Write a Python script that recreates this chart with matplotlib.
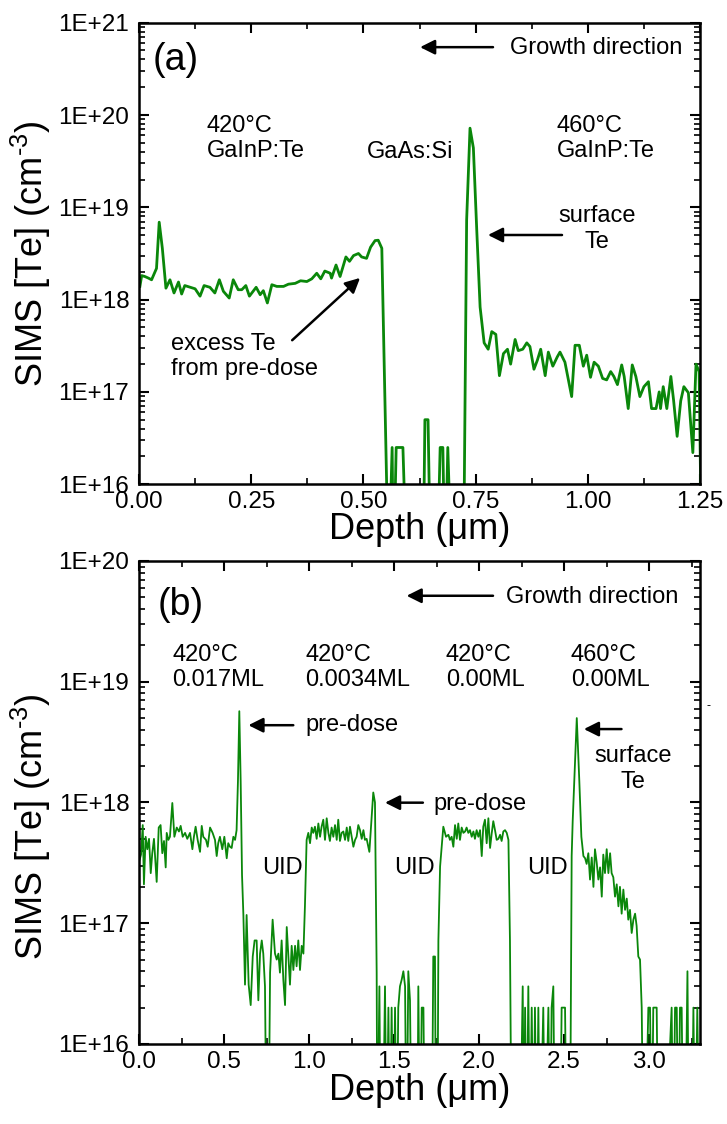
import numpy as np
import matplotlib
matplotlib.use('Agg')
import matplotlib.pyplot as plt
from matplotlib.ticker import LogLocator, FuncFormatter, NullFormatter, MultipleLocator

plt.rcParams['font.family'] = ['Liberation Sans', 'DejaVu Sans']
plt.rcParams['mathtext.fontset'] = 'custom'
plt.rcParams['mathtext.rm'] = 'Liberation Sans'
plt.rcParams['mathtext.it'] = 'Liberation Sans:italic'

# (a) Te profile, GaInP:Te / GaAs:Si / GaInP:Te
depth_a = [
    0.002, 0.006, 0.013, 0.021, 0.028, 0.039, 0.045, 0.052, 0.060, 0.069,
    0.078, 0.088, 0.095, 0.102, 0.114, 0.125, 0.136, 0.145, 0.158, 0.169,
    0.179, 0.188, 0.201, 0.210, 0.221, 0.229, 0.238, 0.246, 0.261, 0.270,
    0.277, 0.286, 0.296, 0.307, 0.322, 0.333, 0.348, 0.360, 0.374, 0.385,
    0.396, 0.405, 0.414, 0.426, 0.429, 0.439, 0.448, 0.461, 0.469, 0.478,
    0.489, 0.496, 0.507, 0.516, 0.526, 0.533, 0.541, 0.556, 0.564, 0.567,
    0.573, 0.588, 0.597, 0.633, 0.637, 0.644, 0.650, 0.664, 0.671, 0.677,
    0.682, 0.688, 0.697, 0.723, 0.730, 0.7375, 0.745, 0.7525, 0.760, 0.769,
    0.778, 0.786, 0.795, 0.803, 0.812, 0.821, 0.828, 0.838, 0.845, 0.855,
    0.864, 0.871, 0.880, 0.8875, 0.895, 0.905, 0.912, 0.922, 0.932, 0.938,
    0.949, 0.964, 0.9715, 0.981, 0.990, 0.9975, 1.006, 1.014, 1.0235, 1.033,
    1.042, 1.051, 1.058, 1.066, 1.0755, 1.081, 1.090, 1.099, 1.107, 1.116,
    1.125, 1.135, 1.142, 1.152, 1.159, 1.162, 1.168, 1.176, 1.185, 1.191,
    1.199, 1.207, 1.214, 1.224, 1.234, 1.241, 1.248, 1.254,
]
te_a = [
    1.39e18, 1.82e18, 1.78e18, 1.71e18, 1.64e18, 2.18e18, 6.9e18, 3.6e18, 1.33e18, 1.64e18,
    1.18e18, 1.55e18, 1.15e18, 1.42e18, 1.36e18, 1.31e18, 1.09e18, 1.42e18, 1.36e18, 1.18e18,
    1.64e18, 1.23e18, 1.04e18, 1.64e18, 1.28e18, 1.28e18, 1.42e18, 1.09e18, 1.36e18, 1.13e18,
    1.25e18, 9.2e17, 1.45e18, 1.39e18, 1.39e18, 1.47e18, 1.50e18, 1.60e18, 1.57e18, 1.68e18,
    1.93e18, 1.68e18, 2.04e18, 1.93e18, 1.71e18, 2.37e18, 1.78e18, 2.9e18, 2.6e18, 3.0e18,
    3.16e18, 2.9e18, 2.8e18, 3.7e18, 4.36e18, 4.4e18, 3.6e18, 1e15, 2.5e16, 1e15,
    2.5e16, 2.5e16, 1e15, 1e15, 5e16, 5e16, 1e15, 1e15, 2.5e16, 2.5e16,
    1e15, 2.5e16, 1e15, 1e15, 7.3e18, 7.2e19, 4.4e19, 5.7e18, 8.3e17, 3.4e17,
    2.9e17, 4.5e17, 4.2e17, 1.5e17, 2.6e17, 2.9e17, 2.0e17, 3.7e17, 2.8e17, 2.9e17,
    3.4e17, 3.1e17, 1.76e17, 2.2e17, 2.9e17, 1.5e17, 2.7e17, 1.9e17, 2.4e17, 2.7e17,
    2.1e17, 8.9e16, 3.2e17, 3.2e17, 1.9e17, 2.5e17, 1.44e17, 2.1e17, 1.9e17, 1.4e17,
    1.35e17, 1.66e17, 1.47e17, 1.2e17, 1.96e17, 1.47e17, 6.6e16, 1.96e17, 1.47e17, 8.9e16,
    1.14e17, 1.29e17, 6.6e16, 6.6e16, 1.0e17, 6.6e16, 1.14e17, 6.6e16, 1.47e17, 8.2e16,
    3.3e16, 8e16, 1.14e17, 9.8e16, 2.2e16, 2.0e17, 1.66e17, 1e15,
]

# (b) pre-dose series with undoped spacers
depth_b = [
    0.002, 0.012, 0.022, 0.029, 0.039, 0.049, 0.059, 0.069, 0.078, 0.088,
    0.104, 0.116, 0.127, 0.137, 0.147, 0.157, 0.163, 0.173, 0.182, 0.196,
    0.208, 0.222, 0.235, 0.245, 0.257, 0.271, 0.284, 0.300, 0.314, 0.323,
    0.333, 0.345, 0.359, 0.369, 0.378, 0.394, 0.404, 0.418, 0.433, 0.447,
    0.457, 0.466, 0.476, 0.490, 0.502, 0.516, 0.525, 0.535, 0.545, 0.555,
    0.565, 0.574, 0.582, 0.590, 0.598, 0.606, 0.614, 0.6235, 0.633, 0.645,
    0.657, 0.669, 0.680, 0.692, 0.702, 0.712, 0.722, 0.731, 0.741, 0.751,
    0.761, 0.771, 0.786, 0.800, 0.810, 0.820, 0.829, 0.839, 0.849, 0.859,
    0.869, 0.878, 0.888, 0.898, 0.908, 0.918, 0.927, 0.937, 0.947, 0.957,
    0.967, 0.976, 0.986, 0.996, 1.006, 1.016, 1.025, 1.035, 1.045, 1.055,
    1.065, 1.074, 1.084, 1.094, 1.104, 1.114, 1.123, 1.133, 1.143, 1.153,
    1.163, 1.172, 1.182, 1.192, 1.202, 1.212, 1.222, 1.231, 1.241, 1.251,
    1.261, 1.271, 1.280, 1.290, 1.300, 1.310, 1.320, 1.329, 1.339, 1.349,
    1.355, 1.363, 1.378, 1.388, 1.398, 1.402, 1.414, 1.422, 1.433, 1.447,
    1.457, 1.467, 1.476, 1.486, 1.496, 1.506, 1.516, 1.525, 1.535, 1.545,
    1.555, 1.565, 1.574, 1.584, 1.594, 1.604, 1.624, 1.637, 1.643, 1.653,
    1.663, 1.673, 1.682, 1.722, 1.731, 1.741, 1.747, 1.755, 1.761, 1.771,
    1.790, 1.806, 1.820, 1.829, 1.839, 1.849, 1.859, 1.869, 1.878, 1.888,
    1.898, 1.908, 1.918, 1.927, 1.937, 1.947, 1.957, 1.967, 1.976, 1.986,
    1.996, 2.006, 2.016, 2.025, 2.035, 2.045, 2.055, 2.065, 2.075, 2.084,
    2.094, 2.104, 2.114, 2.124, 2.133, 2.143, 2.153, 2.163, 2.173, 2.182,
    2.192, 2.241, 2.257, 2.265, 2.271, 2.280, 2.290, 2.300, 2.310, 2.320,
    2.329, 2.339, 2.349, 2.359, 2.378, 2.388, 2.408, 2.418, 2.427, 2.437,
    2.447, 2.476, 2.486, 2.496, 2.506, 2.516, 2.535, 2.545, 2.551, 2.575,
    2.590, 2.602, 2.614, 2.624, 2.633, 2.643, 2.653, 2.663, 2.673, 2.682,
    2.692, 2.702, 2.712, 2.722, 2.731, 2.741, 2.751, 2.761, 2.771, 2.780,
    2.790, 2.800, 2.810, 2.820, 2.829, 2.839, 2.849, 2.859, 2.869, 2.878,
    2.888, 2.898, 2.908, 2.918, 2.927, 2.937, 2.947, 2.957, 2.967, 2.976,
    2.996, 3.006, 3.016, 3.025, 3.045, 3.055, 3.094, 3.133, 3.143, 3.153,
    3.163, 3.173, 3.182, 3.192, 3.202, 3.212, 3.226, 3.235, 3.251, 3.261,
    3.271, 3.284, 3.296, 3.310,
]
te_b = [
    3.3e17, 3.7e17, 6.5e17, 2.1e17, 5.2e17, 4.1e17, 5.0e17, 2.6e17, 3.8e17, 5.0e17,
    2.2e17, 6.2e17, 6.5e17, 3.8e17, 4.8e17, 2.9e17, 5.6e17, 4.9e17, 5.2e17, 9.9e17,
    5.2e17, 6.2e17, 5.75e17, 6.4e17, 5.2e17, 5.6e17, 5.0e17, 5.6e17, 4.1e17, 5.2e17,
    6.3e17, 4.9e17, 3.9e17, 6.4e17, 5.2e17, 4.9e17, 4.3e17, 6.2e17, 5.6e17, 4.9e17,
    3.6e17, 4.6e17, 5.2e17, 4.1e17, 5.2e17, 3.45e17, 4.6e17, 4.3e17, 4.2e17, 5.2e17,
    4.9e17, 5.9e17, 1.5e18, 5.7e18, 1.5e18, 2.5e17, 1.17e17, 3.1e16, 1.17e17, 3.1e16,
    2.1e16, 5.3e16, 7.2e16, 7.2e16, 2.3e16, 5.6e16, 7.2e16, 5.6e16, 3.0e16, 1e15,
    1e15, 3.9e16, 1.07e17, 5.6e16, 5.0e16, 5.6e16, 3.9e16, 7.2e16, 3.4e16, 2.1e16,
    9.3e16, 5.6e16, 3.1e16, 6.5e16, 4.1e16, 6.5e16, 4.4e16, 7.2e16, 4.1e16, 6.5e16,
    5.6e16, 1.38e17, 4.9e17, 5.6e17, 4.6e17, 6.2e17, 5.6e17, 6.3e17, 5.0e17, 6.7e17,
    5.2e17, 6.3e17, 7.2e17, 4.9e17, 7.4e17, 5.6e17, 4.8e17, 6.2e17, 5.2e17, 6.5e17,
    4.9e17, 7.2e17, 4.8e17, 5.6e17, 5.75e17, 4.9e17, 6.2e17, 4.8e17, 6.3e17, 5.2e17,
    4.3e17, 4.9e17, 5.2e17, 6.5e17, 5.9e17, 5.0e17, 5.9e17, 4.9e17, 5.0e17, 4.3e17,
    3.9e17, 5.75e17, 1.21e18, 1.0e18, 3.9e16, 1e15, 3e16, 1e15, 1e15, 3e16,
    1e15, 2e16, 1e15, 2e16, 1e15, 2e16, 1e15, 2e16, 3e16, 3.4e16,
    4e16, 3e16, 1e15, 4e16, 2.3e16, 1e15, 1e15, 1e15, 3e16, 1e15,
    2e16, 2e16, 1e15, 1e15, 5.3e16, 5.3e16, 1e15, 1e15, 7.2e16, 2.95e17,
    6.3e17, 5.2e17, 5.4e17, 4.9e17, 5.2e17, 4.3e17, 6.5e17, 5.0e17, 6.7e17, 4.9e17,
    6.2e17, 5.6e17, 5.75e17, 6.2e17, 5.6e17, 5.9e17, 5.2e17, 5.75e17, 5.0e17, 5.9e17,
    5.2e17, 5.9e17, 3.6e17, 6.3e17, 7.2e17, 4.6e17, 7.4e17, 4.2e17, 5.6e17, 7.0e17,
    5.9e17, 4.9e17, 5.0e17, 5.4e17, 4.8e17, 5.75e17, 5.9e17, 5.6e17, 4.9e17, 7.2e16,
    1e15, 1e15, 3e16, 1e15, 2e16, 1e15, 3e16, 1e15, 2e16, 1e15,
    2e16, 1e15, 2e16, 1e15, 2e16, 1e15, 2e16, 1e15, 2e16, 3e16,
    1e15, 1e15, 2e16, 2e16, 2e16, 1e15, 1e15, 3.6e17, 7e17, 5e18,
    1.5e18, 5.2e17, 3.6e17, 3.45e17, 3.1e17, 3.8e17, 2.3e17, 3.5e17, 2.0e17, 4.1e17,
    3.2e17, 2.3e17, 2.9e17, 1.66e17, 3.7e17, 2.6e17, 4.1e17, 2.6e17, 3.8e17, 2.6e17,
    2.4e17, 1.66e17, 2.1e17, 1.38e17, 2.0e17, 1.2e17, 1.9e17, 1.29e17, 1.6e17, 1.07e17,
    1.29e17, 8.3e16, 1.07e17, 1.2e17, 9.5e16, 5.3e16, 5.0e16, 2e16, 1e15, 1e15,
    2e16, 2e16, 1e15, 2e16, 2e16, 1e15, 1e15, 2e16, 1e15, 2e16,
    2e16, 1e15, 2e16, 2e16, 1e15, 1e15, 4e16, 1e15, 1e15, 2e16,
    1e15, 2e16, 1e15, 3e16,
]

GREEN = '#0a870a'

fig = plt.figure(figsize=(7.27, 11.24), dpi=100)
ax_a = fig.add_axes([0.1912, 0.5692, 0.7717, 0.4106])
ax_b = fig.add_axes([0.1912, 0.0712, 0.7717, 0.4297])


def style_axes(ax, ylim, xlim, xmajor, xminor, xpad):
    ax.set_yscale('log')
    ax.set_ylim(*ylim)
    ax.set_xlim(*xlim)
    ax.xaxis.set_major_locator(MultipleLocator(xmajor))
    ax.xaxis.set_minor_locator(MultipleLocator(xminor))
    ax.yaxis.set_major_locator(LogLocator(base=10, numticks=10))
    ax.yaxis.set_minor_locator(LogLocator(base=10, subs=np.arange(2, 10), numticks=20))
    ax.yaxis.set_minor_formatter(NullFormatter())
    ax.yaxis.set_major_formatter(FuncFormatter(lambda v, p: f'1E+{int(round(np.log10(v)))}'))
    ax.tick_params(which='both', direction='in', top=True, right=True)
    ax.tick_params(which='major', length=7, width=1.5, labelsize=17.5)
    ax.tick_params(which='minor', length=4, width=1.2)
    ax.tick_params(axis='x', pad=5)
    ax.tick_params(axis='y', pad=7)
    for s in ax.spines.values():
        s.set_linewidth(1.8)
    ax.set_xlabel('Depth (μm)', fontsize=26, labelpad=xpad)
    ax.set_ylabel(r'SIMS [Te] (cm$^{\text{-3}}$)', fontsize=26)


def arrow(ax, tip, tail):
    ax.annotate('', xy=tip, xytext=tail, xycoords='axes fraction',
                textcoords='axes fraction',
                arrowprops=dict(arrowstyle='-|>', color='black', lw=1.8,
                                mutation_scale=22, shrinkA=0, shrinkB=0))


def label(ax, x, y, s, **kw):
    kw.setdefault('fontsize', 17)
    kw.setdefault('ha', 'left')
    ax.text(x, y, s, transform=ax.transAxes, va='center', **kw)


# --- panel (a) ---
ax_a.plot(depth_a, te_a, color=GREEN, lw=2.0)
style_axes(ax_a, (1e16, 1e21), (0, 1.25), 0.25, 0.125, -1)
ax_a.xaxis.set_major_formatter(FuncFormatter(lambda v, p: f'{v:.2f}'))
ax_a.yaxis.set_label_coords(-0.153, 0.5)

label(ax_a, 0.025, 0.919, '(a)', fontsize=27)
arrow(ax_a, (0.501, 0.947), (0.631, 0.947))
label(ax_a, 0.661, 0.945, 'Growth direction')
label(ax_a, 0.121, 0.749, '420°C\nGaInP:Te')
label(ax_a, 0.406, 0.720, 'GaAs:Si')
label(ax_a, 0.745, 0.749, '460°C\nGaInP:Te')
label(ax_a, 0.816, 0.553, 'surface\nTe', ha='center', multialignment='center')
arrow(ax_a, (0.622, 0.540), (0.754, 0.540))
label(ax_a, 0.057, 0.277, 'excess Te\nfrom pre-dose')
arrow(ax_a, (0.394, 0.447), (0.273, 0.312))

# --- panel (b) ---
ax_b.plot(depth_b, te_b, color=GREEN, lw=1.3)
style_axes(ax_b, (1e16, 1e20), (0, 3.3), 0.5, 0.25, 0)
ax_b.xaxis.set_major_formatter(FuncFormatter(lambda v, p: f'{v:.1f}'))
ax_b.yaxis.set_label_coords(-0.153, 0.45)

label(ax_b, 0.034, 0.909, '(b)', fontsize=27)
arrow(ax_b, (0.477, 0.928), (0.631, 0.928))
label(ax_b, 0.654, 0.925, 'Growth direction')
label(ax_b, 0.059, 0.780, '420°C\n0.017ML')
label(ax_b, 0.296, 0.780, '420°C\n0.0034ML')
label(ax_b, 0.547, 0.780, '420°C\n0.00ML')
label(ax_b, 0.770, 0.780, '460°C\n0.00ML')
arrow(ax_b, (0.195, 0.660), (0.275, 0.660))
label(ax_b, 0.296, 0.660, 'pre-dose')
arrow(ax_b, (0.4385, 0.4996), (0.506, 0.4996))
label(ax_b, 0.524, 0.497, 'pre-dose')
arrow(ax_b, (0.793, 0.652), (0.860, 0.652))
label(ax_b, 0.881, 0.569, 'surface\nTe', ha='center', multialignment='center')
for x in (0.219, 0.4545, 0.691):
    label(ax_b, x, 0.364, 'UID')

# short stray dash beside the right spine of (b)
fig.text(0.972, 1 - 706 / 1124, '-', fontsize=9, va='center', ha='left')

fig.savefig('out.png', dpi=100)
